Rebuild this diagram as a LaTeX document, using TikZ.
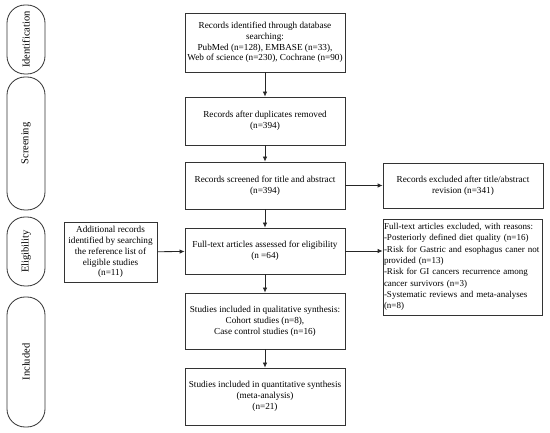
\documentclass[tikz,border=0pt]{standalone}
\usepackage{fontspec}
\setmainfont{Liberation Serif}
\usetikzlibrary{arrows.meta}
\begin{document}
\begin{tikzpicture}[x=1pt,y=-1pt,
  box/.style={draw=black!80,line width=0.8pt,align=center,inner sep=1pt,
    font=\fontsize{9.2}{10.8}\selectfont},
  pill/.style={draw=black!80,line width=0.8pt,rounded corners=18pt},
  plabel/.style={rotate=90,font=\fontsize{10.5}{12}\selectfont},
  arr/.style={draw=black!85,line width=0.8pt,-{Latex[length=5pt,width=4.5pt]}}]
\useasboundingbox (0,0) rectangle (550,433);
% phase pills
\draw[pill] (7,5) rectangle (45,74);
\node[plabel] (pid) at (26,39.5) {Identification};
\draw[pill] (7,77) rectangle (45,210);
\node[plabel] (psc) at (26,143.5) {Screening};
\draw[pill] (7,217) rectangle (45,286);
\node[plabel] (pel) at (26,251.5) {Eligibility};
\draw[pill] (7,297) rectangle (45,427);
\node[plabel] (pin) at (26,362) {Included};
% main column
\node[box,minimum width=160pt,minimum height=59pt] (b1) at (265,42.5)
  {Records identified through database\\searching:\\PubMed (n=128), EMBASE (n=33),\\Web of science (n=230), Cochrane (n=90)};
\node[box,minimum width=160pt,minimum height=48pt] (b2) at (265,121)
  {Records after duplicates removed\\(n=394)};
\node[box,minimum width=160pt,minimum height=47pt] (b3) at (265,185.5)
  {Records screened for title and abstract\\(n=394)};
\node[box,minimum width=160pt,minimum height=46pt] (b4) at (265,251)
  {Full-text articles assessed for eligibility\\(n =64)};
\node[box,minimum width=160pt,minimum height=56pt] (b5) at (265,321)
  {Studies included in qualitative synthesis:\\Cohort studies (n=8),\\Case control studies (n=16)};
\node[box,minimum width=160pt,minimum height=57pt] (b6) at (265,396.5)
  {Studies included in quantitative synthesis\\(meta-analysis)\\(n=21)};
% side boxes
\node[box,minimum width=93pt,minimum height=60pt] (add) at (110.5,252)
  {Additional records\\identified by searching\\the reference list of\\eligible studies\\(n=11)};
\node[box,minimum width=160pt,minimum height=45pt] (ex1) at (463,185.5)
  {Records excluded after title/abstract\\revision (n=341)};
\node[box,minimum width=159pt,minimum height=96pt,align=left,text width=157pt,inner sep=1pt,
  font=\fontsize{9}{11.3}\selectfont] (ex2) at (462.5,267)
  {Full-text articles excluded, with reasons:\\-Posteriorly defined diet quality (n=16)\\-Risk for Gastric and esophagus caner not\\provided (n=13)\\-Risk for GI cancers recurrence among\\cancer survivors (n=3)\\-Systematic reviews and meta-analyses\\(n=8)};
% connectors
\draw[arr] (b1) -- (b2);
\draw[arr] (b2) -- (b3);
\draw[arr] (b3) -- (b4);
\draw[arr] (b4) -- (b5);
\draw[arr] (b5) -- (b6);
\draw[arr] (b3) -- (ex1);
\draw[arr] (b4.east) -- (b4.east -| ex2.west);
\draw[arr] (add) -- (b4);
\end{tikzpicture}
\end{document}
